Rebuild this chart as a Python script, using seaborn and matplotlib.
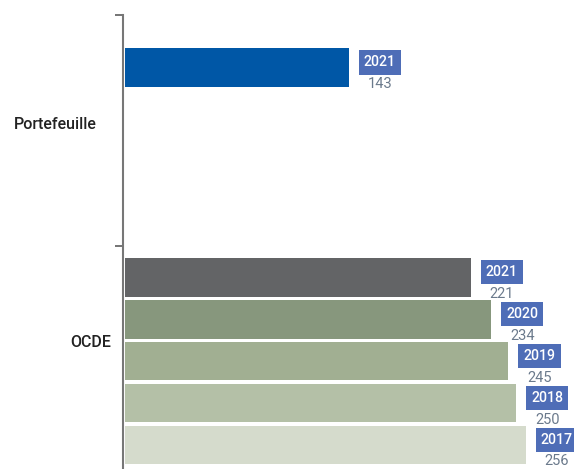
import matplotlib
matplotlib.use("Agg")
import matplotlib.pyplot as plt
import matplotlib.transforms as mtransforms
import seaborn as sns
import pandas as pd

# ---- data ----
groups = ["Portefeuille", "OCDE"]
portfolio_years = ["2021"]
portfolio_values = [143]
ocde_years = ["2021", "2020", "2019", "2018", "2017"]
ocde_values = [221, 234, 245, 250, 256]

bar_colors = ["#0057A6", "#636466", "#87977D", "#A1AF92", "#B4C0A7", "#D5DBCC"]
box_color = "#4E6DB7"
value_color = "#6B7A8C"
label_color = "#222222"
axis_color = "#777777"

sns.set_theme(style="white")
plt.rcParams["font.family"] = ["Roboto", "DejaVu Sans"]

# ---- build table: one slot per bar, OCDE group starts after a gap ----
rows = []
for i, (yr, v) in enumerate(zip(portfolio_years, portfolio_values)):
    rows.append(("Portefeuille", yr, v, i))
ocde_start = 5
for i, (yr, v) in enumerate(zip(ocde_years, ocde_values)):
    rows.append(("OCDE", yr, v, ocde_start + i))
df = pd.DataFrame(rows, columns=["group", "year", "value", "pos"])
df["key"] = [f"k{i}" for i in range(len(df))]
palette = dict(zip(df["key"], bar_colors))

fig = plt.figure(figsize=(5.74, 4.69), dpi=100)
ax = fig.add_axes([125 / 574, 0, 449 / 574, 1 - 15 / 469])

sns.barplot(data=df, x="value", y="pos", hue="key", palette=palette,
            orient="h", native_scale=True, width=0.92, dodge=False,
            legend=False, saturation=1, linewidth=0, ax=ax)

ax.set_xlim(0, 287)
ax.set_ylim(9.57, -1.25)
sns.despine(ax=ax, left=False, bottom=True)
ax.spines["left"].set_position(("outward", 1.44))
ax.spines["left"].set_color(axis_color)
ax.spines["left"].set_linewidth(1.5)
ax.set_xticks([])
ax.set_yticks([-1.25, 4.25])
ax.set_yticklabels([])
ax.tick_params(axis="y", left=True, length=5.8, width=1.44, color=axis_color, direction="out")
ax.set_xlabel("")
ax.set_ylabel("")

# group labels
trans = mtransforms.blended_transform_factory(ax.transAxes, ax.transData)
ax.text(-0.0624, 1.37, groups[0], transform=trans, ha="right", va="center",
        fontsize=11.5, fontweight="medium", color=label_color)
ax.text(-0.0312, 6.56, groups[1], transform=trans, ha="right", va="center",
        fontsize=11.5, fontweight="medium", color=label_color)

# bar annotations
for _, r in df.iterrows():
    ax.annotate(r["year"], xy=(r["value"], r["pos"]), xytext=(22.5, 3.6),
                textcoords="offset points", ha="center", va="center",
                fontsize=10.2, fontweight="medium", color="white",
                bbox=dict(boxstyle="square,pad=0.36", fc=box_color, ec="none"))
    ax.annotate(f"{r['value']}", xy=(r["value"], r["pos"]), xytext=(22.5, -11.8),
                textcoords="offset points", ha="center", va="center",
                fontsize=10.5, color=value_color)

fig.savefig("out.png", dpi=100)
